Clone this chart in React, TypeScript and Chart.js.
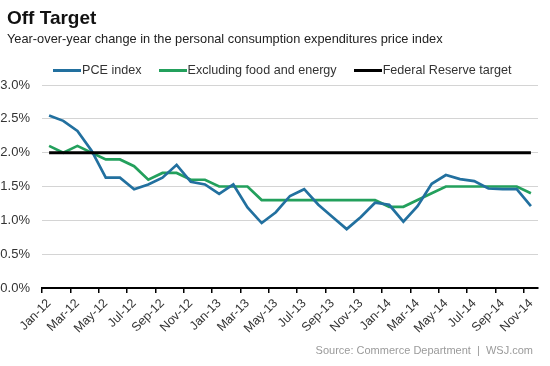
import React, { useEffect, useRef } from "react";
import { Chart, registerables } from "chart.js";

Chart.register(...registerables);

const months = [
  "Jan-12", "Feb-12", "Mar-12", "Apr-12", "May-12", "Jun-12", "Jul-12", "Aug-12", "Sep-12", "Oct-12", "Nov-12", "Dec-12",
  "Jan-13", "Feb-13", "Mar-13", "Apr-13", "May-13", "Jun-13", "Jul-13", "Aug-13", "Sep-13", "Oct-13", "Nov-13", "Dec-13",
  "Jan-14", "Feb-14", "Mar-14", "Apr-14", "May-14", "Jun-14", "Jul-14", "Aug-14", "Sep-14", "Oct-14", "Nov-14",
];

const pceIndex = [
  2.55, 2.47, 2.32, 2.03, 1.63, 1.63, 1.46, 1.53, 1.63, 1.82, 1.57, 1.53,
  1.39, 1.53, 1.19, 0.96, 1.12, 1.36, 1.46, 1.23, 1.05, 0.87, 1.05, 1.26,
  1.23, 0.98, 1.21, 1.54, 1.67, 1.61, 1.58, 1.47, 1.46, 1.46, 1.21,
];

const coreIndex = [
  2.1, 2.0, 2.1, 2.0, 1.9, 1.9, 1.8, 1.6, 1.7, 1.7, 1.6, 1.6,
  1.5, 1.5, 1.5, 1.3, 1.3, 1.3, 1.3, 1.3, 1.3, 1.3, 1.3, 1.3,
  1.2, 1.2, 1.3, 1.4, 1.5, 1.5, 1.5, 1.5, 1.5, 1.5, 1.4,
];

const fedTarget = [
  2.0, 2.0, 2.0, 2.0, 2.0, 2.0, 2.0, 2.0, 2.0, 2.0, 2.0, 2.0,
  2.0, 2.0, 2.0, 2.0, 2.0, 2.0, 2.0, 2.0, 2.0, 2.0, 2.0, 2.0,
  2.0, 2.0, 2.0, 2.0, 2.0, 2.0, 2.0, 2.0, 2.0, 2.0, 2.0,
];

const seriesNames = ["PCE index", "Excluding food and energy", "Federal Reserve target"];
const seriesColors = ["#22709f", "#23a05c", "#000000"];

const FONT = "'Liberation Sans', Arial, Helvetica, sans-serif";

export default function App() {
  const canvasRef = useRef<HTMLCanvasElement | null>(null);

  useEffect(() => {
    document.body.style.margin = "0";
    const canvas = canvasRef.current;
    if (!canvas) return;
    const chart = new Chart(canvas, {
      type: "line",
      data: {
        labels: months,
        datasets: [
          { label: seriesNames[0], data: pceIndex, borderColor: seriesColors[0], borderWidth: 2.7, pointRadius: 0, tension: 0, order: 2 },
          { label: seriesNames[1], data: coreIndex, borderColor: seriesColors[1], borderWidth: 2.7, pointRadius: 0, tension: 0, order: 3 },
          { label: seriesNames[2], data: fedTarget, borderColor: seriesColors[2], borderWidth: 3, pointRadius: 0, tension: 0, order: 1 },
        ],
      },
      options: {
        animation: false,
        responsive: false,
        maintainAspectRatio: false,
        layout: { padding: { top: 85, right: 12, bottom: 0, left: 0 } },
        plugins: { legend: { display: false }, tooltip: { enabled: false }, title: { display: false } },
        scales: {
          x: {
            type: "category",
            offset: true,
            afterFit: (s: any) => { s.height = 78; },
            grid: {
              offset: true,
              drawOnChartArea: false,
              drawTicks: true,
              tickLength: 5,
              lineWidth: 1.5,
              color: (ctx: any) => (ctx.index % 2 === 0 ? "#000000" : "rgba(0,0,0,0)"),
            },
            border: { display: true, color: "#000000", width: 2 },
            ticks: {
              autoSkip: false,
              maxRotation: 45,
              minRotation: 45,
              padding: 3,
              color: "#333333",
              font: { family: FONT, size: 12.5 },
              callback: (_v: any, i: number) => (i % 2 === 0 ? months[i] : ""),
            },
          },
          y: {
            min: 0,
            max: 3,
            afterFit: (s: any) => { s.width = 42; },
            grid: { color: (ctx: any) => (ctx.tick && ctx.tick.value === 0 ? "rgba(0,0,0,0)" : "#d4d4d4"), lineWidth: 1, drawTicks: false },
            border: { display: false },
            ticks: {
              stepSize: 0.5,
              padding: 12,
              color: "#333333",
              font: { family: FONT, size: 13 },
              callback: (v: any) => Number(v).toFixed(1) + "%",
            },
          },
        },
      },
    });
    return () => chart.destroy();
  }, []);

  return (
    <div style={{ position: "relative", width: 550, height: 366, background: "#fff", fontFamily: FONT, overflow: "hidden" }}>
      <canvas ref={canvasRef} width={550} height={366} style={{ position: "absolute", left: 0, top: 0 }} />
      <div style={{ position: "absolute", left: 7, top: 7, fontSize: 19, fontWeight: "bold", color: "#111", lineHeight: "22px" }}>Off Target</div>
      <div style={{ position: "absolute", left: 7, top: 31, fontSize: 12.8, color: "#222", lineHeight: "16px" }}>
        Year-over-year change in the personal consumption expenditures price index
      </div>
      <div style={{ position: "absolute", left: 53, top: 62, display: "flex", alignItems: "center", fontSize: 12.6, color: "#333", lineHeight: "16px" }}>
        {seriesNames.map((n, i) => (
          <div key={n} style={{ display: "flex", alignItems: "center", marginRight: 17 }}>
            <span style={{ display: "inline-block", width: 28, height: 3, background: seriesColors[i], marginRight: 1 }} />
            <span>{n}</span>
          </div>
        ))}
      </div>
      <div style={{ position: "absolute", right: 17, top: 344, fontSize: 11, color: "#9a9a9a", lineHeight: "13px" }}>
        Source: Commerce Department&nbsp;&nbsp;|&nbsp;&nbsp;WSJ.com
      </div>
    </div>
  );
}
